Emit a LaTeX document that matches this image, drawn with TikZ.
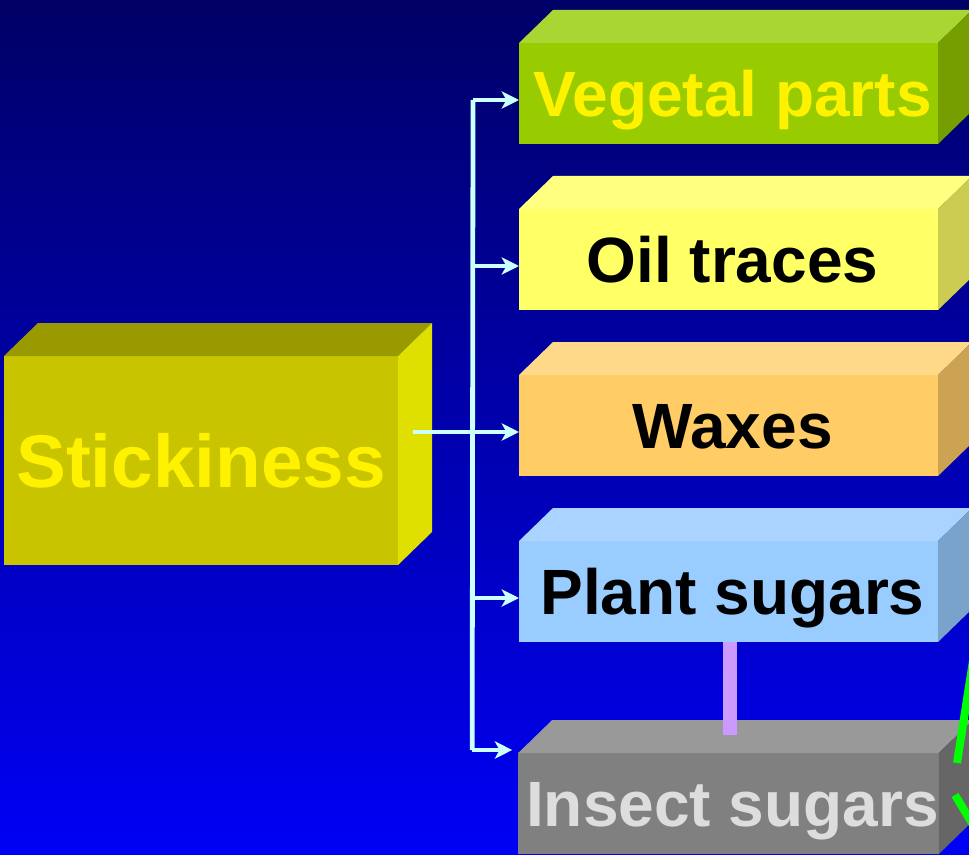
\documentclass[tikz,border=0pt]{standalone}
\usepackage{fontspec}
\setmainfont{Liberation Sans}
\usepackage{tikz}
\usetikzlibrary{arrows.meta, positioning, calc}
\usepackage{xcolor}
\definecolor{bgtop}{HTML}{000066}
\definecolor{bgbot}{HTML}{0000F5}
\definecolor{stickfront}{HTML}{C8C400}
\definecolor{sticktop}{HTML}{999900}
\definecolor{stickside}{HTML}{E0E000}
\definecolor{vegfront}{HTML}{99CC00}
\definecolor{vegtop}{HTML}{AAD633}
\definecolor{vegside}{HTML}{779E00}
\definecolor{oilfront}{HTML}{FFFF66}
\definecolor{oiltop}{HTML}{FFFF80}
\definecolor{oilside}{HTML}{CCCC52}
\definecolor{waxfront}{HTML}{FFCC66}
\definecolor{waxtop}{HTML}{FFD98A}
\definecolor{waxside}{HTML}{CCA352}
\definecolor{plantfront}{HTML}{99CCFF}
\definecolor{planttop}{HTML}{AAD4FF}
\definecolor{plantside}{HTML}{7AA3CC}
\definecolor{insectfront}{HTML}{808080}
\definecolor{insecttop}{HTML}{999999}
\definecolor{insectside}{HTML}{666666}
\definecolor{insecttext}{HTML}{DDDDDD}
\definecolor{linkcol}{HTML}{CCFFFF}
\definecolor{sugarcol}{HTML}{CC99FF}
\newcommand{\cubefaces}[3]{%
  \fill[#2] (#1.north west) -- ++(25.5pt,24.75pt)
    -- ([shift={(25.5pt,24.75pt)}]#1.north east) -- (#1.north east) -- cycle;
  \fill[#3] (#1.north east) -- ++(25.5pt,24.75pt)
    -- ([shift={(25.5pt,24.75pt)}]#1.south east) -- (#1.south east) -- cycle;}

\begin{document}
\begin{tikzpicture}[
    x=0.75pt, y=-0.75pt,
    face/.style={rectangle, inner sep=0pt, outer sep=0pt,
                 minimum width=314.25pt, minimum height=75.75pt,
                 text height=34.4pt, text depth=0pt,
                 font=\fontsize{48}{52}\selectfont\bfseries},
    link/.style={draw=linkcol, line width=3.6pt},
    arr/.style={link, -{Stealth[length=13pt, width=13pt, inset=3.5pt]}},
]
\useasboundingbox (0,0) rectangle (969,855);
\shade[top color=bgtop, bottom color=bgbot] (0,0) rectangle (969,855);
\clip (0,0) rectangle (969,855);

% boxes
\node[face, fill=vegfront, text=yellow] (veg) at (728.5,93.5) {\hspace{6pt}Vegetal parts};
\node[face, fill=oilfront, below=48.75pt of veg] (oil) {\hspace{6pt}Oil traces};
\node[face, fill=waxfront, below=48.75pt of oil] (wax) {\hspace{6pt}Waxes};
\node[face, fill=plantfront, below=48.75pt of wax] (plant) {\hspace{6pt}Plant sugars};
\node[face, fill=insectfront, text=insecttext, below=83.25pt of plant] (insect) {\hspace{6pt}Insect sugars};
\node[face, fill=stickfront, text=yellow, minimum width=295.5pt,
      minimum height=156.75pt, text height=40.1pt,
      font=\fontsize{56}{60}\selectfont\bfseries] (stick) at (201,460.5) {Stickiness};

\cubefaces{stick}{sticktop}{stickside}
\cubefaces{veg}{vegtop}{vegside}
\cubefaces{oil}{oiltop}{oilside}
\cubefaces{wax}{waxtop}{waxside}
\cubefaces{plant}{planttop}{plantside}
\cubefaces{insect}{insecttop}{insectside}

% connectors
\draw[link] ($(veg.west)+(-46,6.5)$) -- ($(insect.north west)+(-46,-3)$);
\draw[arr] ($(stick.east)+(15,-28.5)$) -- ($(wax.west)+(0,6.5)$);
\foreach \n in {veg,oil,plant}
  \draw[arr] ($(\n.west)+(-46,6.5)$) -- ++(46,0);
\draw[arr] ($(insect.north west)+(-46,-3)$) -- ++(40,0);
\draw[draw=sugarcol, line width=10.5pt] ($(plant.south)+(1.5,0)$) -- ($(insect.north)+(1.5,-18)$);

% green strokes at the edge
\draw[green, line width=6pt] (975,648) -- (957,763);
\draw[green, line width=6pt] (955,795) -- (975,828);
\end{tikzpicture}
\end{document}
